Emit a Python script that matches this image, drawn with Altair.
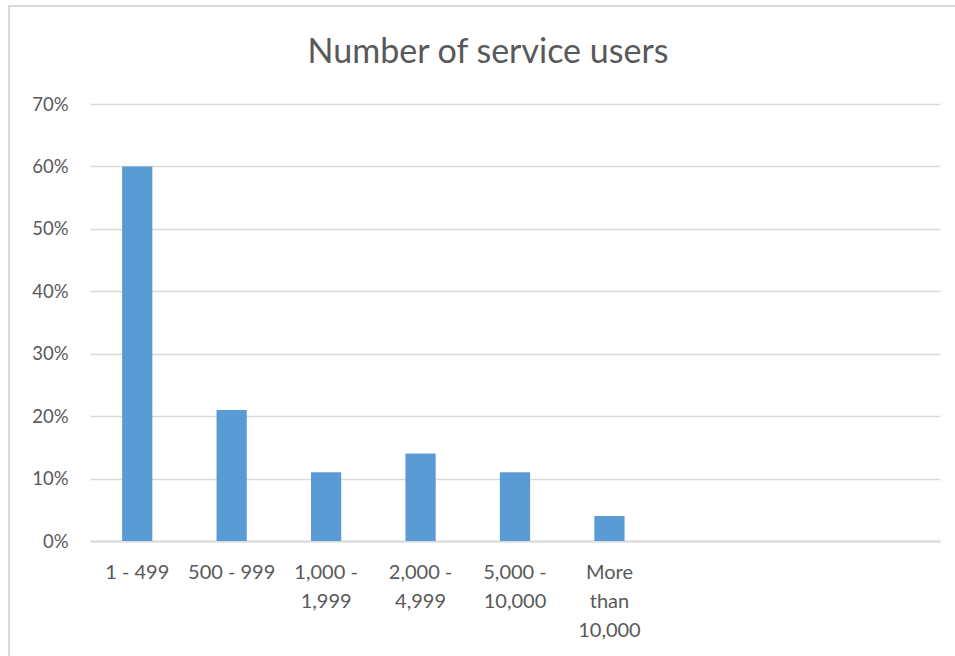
import altair as alt
import pandas as pd

categories = ["1 - 499", "500 - 999", "1,000 -|1,999", "2,000 -|4,999", "5,000 -|10,000", "More|than|10,000"]
values = [0.60, 0.21, 0.11, 0.14, 0.11, 0.04]
empty_slots = ["pad1", "pad2", "pad3"]
y_ticks = [0, 0.1, 0.2, 0.3, 0.4, 0.5, 0.6, 0.7]

df = pd.DataFrame({"category": categories, "value": values})

FONT = "Lato"
GREY = "#595959"
GRID = "#d9d9d9"

bars = alt.Chart(df).mark_bar(color="#5b9bd5").encode(
    x=alt.X(
        "category:N",
        sort=None,
        scale=alt.Scale(domain=categories + empty_slots, paddingInner=0.68, paddingOuter=0.34),
        axis=alt.Axis(
            title=None,
            labelAngle=0,
            labelExpr="indexof(datum.value, 'pad') == 0 ? '' : split(datum.value, '|')",
            labelFontSize=20,
            labelColor=GREY,
            labelFont=FONT,
            labelLineHeight=29,
            labelPadding=21,
            ticks=False,
            domainColor=GRID,
            domainWidth=2,
            grid=False,
        ),
    ),
    y=alt.Y(
        "value:Q",
        scale=alt.Scale(domain=[0, 0.7], nice=False),
        axis=alt.Axis(
            title=None,
            format=".0%",
            values=y_ticks,
            labelFontSize=18.5,
            labelColor=GREY,
            labelFont=FONT,
            labelPadding=22,
            ticks=False,
            domain=False,
            gridColor=GRID,
            gridWidth=1.5,
        ),
    ),
)

frame_left = alt.Chart(alt.Data(values=[{}])).mark_rule(color=GRID, strokeWidth=2).encode(
    x=alt.value(-81), y=alt.value(-99), y2=alt.value(560)
)
frame_top = alt.Chart(alt.Data(values=[{}])).mark_rule(color=GRID, strokeWidth=2).encode(
    x=alt.value(-81), x2=alt.value(870), y=alt.value(-98)
)

chart = alt.layer(frame_left, frame_top, bars).properties(
    width=850,
    height=437,
    padding={"left": 90, "top": 104, "right": 15, "bottom": 115},
    autosize=alt.AutoSizeParams(type="none"),
    title=alt.TitleParams(
        "Number of service users",
        fontSize=34,
        font=FONT,
        fontWeight="normal",
        color=GREY,
        anchor="middle",
        frame="group",
        baseline="alphabetic",
        offset=-93,
        dx=-27,
    ),
).configure_view(stroke=None)

chart.save("out.html", embed_options={"renderer": "svg", "actions": False})
